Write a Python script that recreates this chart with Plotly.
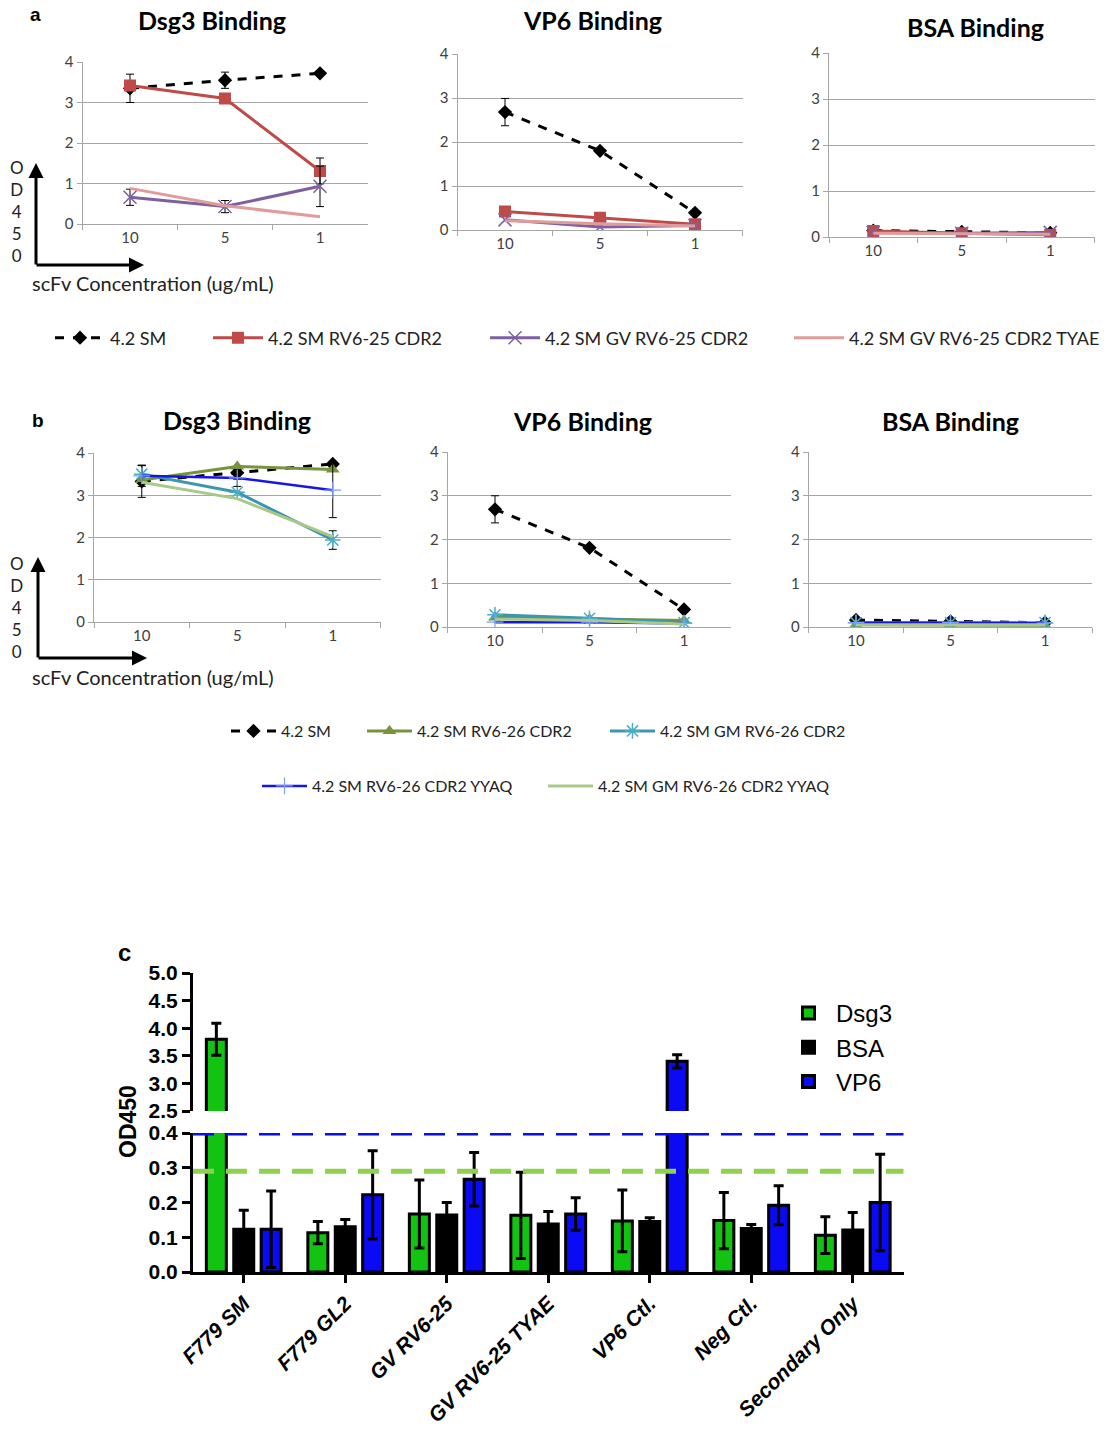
import plotly.graph_objects as go

W, H = 1107, 1429

# ---------------- data ----------------
conc = ["10", "5", "1"]

# Panel a
a_names = ["4.2 SM", "4.2 SM RV6-25 CDR2", "4.2 SM GV RV6-25 CDR2", "4.2 SM GV RV6-25 CDR2 TYAE"]
a_dsg3_sm = [3.35, 3.55, 3.72]
a_dsg3_sm_err = [0.35, 0.20, 0.0]
a_dsg3_rv = [3.42, 3.10, 1.31]
a_dsg3_rv_err = [0.0, 0.0, 0.32]
a_dsg3_gv = [0.66, 0.43, 0.93]
a_dsg3_gv_err = [0.20, 0.15, 0.50]
a_dsg3_ty = [0.88, 0.45, 0.18]

a_vp6_sm = [2.68, 1.80, 0.39]
a_vp6_sm_err = [0.31, 0.04, 0.04]
a_vp6_rv = [0.42, 0.28, 0.13]
a_vp6_gv = [0.23, 0.07, 0.10]
a_vp6_ty = [0.21, 0.14, 0.09]

a_bsa_sm = [0.14, 0.11, 0.09]
a_bsa_rv = [0.13, 0.08, 0.05]
a_bsa_gv = [0.10, 0.08, 0.10]
a_bsa_ty = [0.08, 0.07, 0.06]

# Panel b
b_names = ["4.2 SM", "4.2 SM RV6-26 CDR2", "4.2 SM GM RV6-26 CDR2",
           "4.2 SM RV6-26 CDR2 YYAQ", "4.2 SM GM RV6-26 CDR2 YYAQ"]
b_dsg3_sm = [3.33, 3.53, 3.74]
b_dsg3_sm_err = [0.38, 0.15, 0.0]
b_dsg3_rv = [3.36, 3.68, 3.61]
b_dsg3_gm = [3.50, 3.07, 1.94]
b_dsg3_gm_err = [0.20, 0.0, 0.22]
b_dsg3_yy = [3.46, 3.41, 3.12]
b_dsg3_yy_err = [0.25, 0.20, 0.65]
b_dsg3_gy = [3.31, 2.92, 2.02]

b_vp6_sm = [2.69, 1.81, 0.40]
b_vp6_sm_err = [0.31, 0.04, 0.04]
b_vp6_rv = [0.22, 0.18, 0.15]
b_vp6_gm = [0.28, 0.20, 0.10]
b_vp6_yy = [0.11, 0.11, 0.08]
b_vp6_gy = [0.18, 0.15, 0.07]

b_bsa_sm = [0.16, 0.13, 0.10]
b_bsa_rv = [0.05, 0.05, 0.04]
b_bsa_gm = [0.10, 0.10, 0.10]
b_bsa_yy = [0.10, 0.10, 0.09]
b_bsa_gy = [0.05, 0.05, 0.05]

# Panel c
c_groups = ["F779 SM", "F779 GL2", "GV RV6-25", "GV RV6-25 TYAE", "VP6 Ctl.", "Neg Ctl.", "Secondary Only"]
c_dsg3 = [3.80, 0.113, 0.167, 0.163, 0.147, 0.148, 0.106]
c_dsg3_err = [0.29, 0.032, 0.098, 0.124, 0.089, 0.081, 0.053]
c_bsa = [0.123, 0.130, 0.164, 0.138, 0.145, 0.125, 0.121]
c_bsa_err = [0.055, 0.021, 0.036, 0.036, 0.011, 0.012, 0.050]
c_vp6 = [0.123, 0.222, 0.267, 0.167, 3.40, 0.192, 0.200]
c_vp6_err = [0.110, 0.127, 0.077, 0.047, 0.12, 0.056, 0.139]
c_vp6_cut = 0.40
c_dsg3_cut = 0.29

# ---------------- helpers ----------------
def px(x):
    return x / W

def py(y):
    return 1 - y / H

GRID = "#a6a6a6"
XLF = "Lato"
ARIAL = "Liberation Sans"

fig = go.Figure()

excel_axes = [
    ("x", "y", (82.5, 367.5), (224, 62)),
    ("x2", "y2", (457.5, 742.5), (230, 54)),
    ("x3", "y3", (829, 1094.5), (237, 53)),
    ("x4", "y4", (94, 380.5), (622, 453)),
    ("x5", "y5", (447.75, 731.25), (627, 452)),
    ("x6", "y6", (808.75, 1092.25), (627, 452)),
]

layout_axes = {}
for xn, yn, (x0, x1), (yb, yt) in excel_axes:
    xk = "xaxis" + xn[1:]
    yk = "yaxis" + yn[1:]
    layout_axes[xk] = dict(
        domain=[px(x0), px(x1)], anchor=yn, type="category", range=[-0.5, 2.5],
        tickson="boundaries", ticks="outside", ticklen=5, tickcolor=GRID,
        showline=True, linecolor=GRID, linewidth=1, showgrid=False, zeroline=False,
        tickfont=dict(family=XLF, size=15, color="#404040"), fixedrange=True,
    )
    layout_axes[yk] = dict(
        domain=[py(yb), py(yt)], anchor=xn, range=[0, 4], dtick=1,
        showgrid=True, gridcolor=GRID, gridwidth=1, ticks="outside", ticklen=5,
        tickcolor=GRID, showline=True, linecolor=GRID, linewidth=1, zeroline=False,
        tickfont=dict(family=XLF, size=15, color="#404040"), fixedrange=True,
    )

def EB(arr):
    return dict(type="data", array=arr, color="black", thickness=1, width=4, visible=True)

st_sm = dict(mode="lines+markers", line=dict(color="black", width=3, dash="dash"),
             marker=dict(symbol="diamond", size=11, color="black"))
st_rv25 = dict(mode="lines+markers", line=dict(color="#BE4B48", width=3),
               marker=dict(symbol="square", size=12, color="#BE4B48"))
st_gv25 = dict(mode="lines+markers", line=dict(color="#7D60A0", width=3),
               marker=dict(symbol="x-thin", size=13, color="#7D60A0", line=dict(color="#7D60A0", width=1.5)))
st_ty = dict(mode="lines", line=dict(color="#E09C9B", width=3))

st_rv26 = dict(mode="lines+markers", line=dict(color="#77933C", width=3),
               marker=dict(symbol="triangle-up", size=12, color="#77933C"))
st_gm = dict(mode="lines+markers", line=dict(color="#3D96AE", width=3),
             marker=dict(symbol="asterisk", size=13, color="#4BACC6", line=dict(color="#4BACC6", width=1.5)))
st_yy = dict(mode="lines+markers", line=dict(color="#1515E8", width=2.5),
             marker=dict(symbol="cross-thin", size=12, color="#7F9FFF", line=dict(color="#7F9FFF", width=1.2)))
st_gy = dict(mode="lines", line=dict(color="#A9C98A", width=3))

# Panel a
a_sets = [
    ("x", "y", [a_dsg3_sm, a_dsg3_rv, a_dsg3_gv, a_dsg3_ty],
     [a_dsg3_sm_err, a_dsg3_rv_err, a_dsg3_gv_err, None], True),
    ("x2", "y2", [a_vp6_sm, a_vp6_rv, a_vp6_gv, a_vp6_ty], [a_vp6_sm_err, None, None, None], False),
    ("x3", "y3", [a_bsa_sm, a_bsa_rv, a_bsa_gv, a_bsa_ty], [None, None, None, None], False),
]
a_styles = [st_sm, st_rv25, st_gv25, st_ty]
a_legends = ["legend", "legend2", "legend3", "legend4"]
for xn, yn, vals, errs, showleg in a_sets:
    for i in range(4):
        tr = go.Scatter(x=conc, y=vals[i], name=a_names[i], xaxis=xn, yaxis=yn,
                        showlegend=showleg, legend=a_legends[i], **a_styles[i])
        if errs[i] is not None:
            tr.error_y = EB(errs[i])
        fig.add_trace(tr)

# Panel b
b_sets = [
    ("x4", "y4", [b_dsg3_sm, b_dsg3_rv, b_dsg3_gm, b_dsg3_yy, b_dsg3_gy],
     [b_dsg3_sm_err, None, b_dsg3_gm_err, b_dsg3_yy_err, None], True),
    ("x5", "y5", [b_vp6_sm, b_vp6_rv, b_vp6_gm, b_vp6_yy, b_vp6_gy], [b_vp6_sm_err, None, None, None, None], False),
    ("x6", "y6", [b_bsa_sm, b_bsa_rv, b_bsa_gm, b_bsa_yy, b_bsa_gy], [None] * 5, False),
]
b_styles = [st_sm, st_rv26, st_gm, st_yy, st_gy]
b_legends = ["legend5", "legend6", "legend7", "legend8", "legend9"]
for xn, yn, vals, errs, showleg in b_sets:
    for i in range(5):
        tr = go.Scatter(x=conc, y=vals[i], name=b_names[i], xaxis=xn, yaxis=yn,
                        showlegend=showleg, legend=b_legends[i], **b_styles[i])
        if errs[i] is not None:
            tr.error_y = EB(errs[i])
        fig.add_trace(tr)

# Panel c (broken axis: y7 bottom 0-0.4, y8 top 2.5-5)
c_series = [("Dsg3", c_dsg3, c_dsg3_err, "#12C312"),
            ("BSA", c_bsa, c_bsa_err, "#000000"),
            ("VP6", c_vp6, c_vp6_err, "#0A0AF5")]
for yn, showleg in (("y7", True), ("y8", False)):
    for name, vals, err, col in c_series:
        fig.add_trace(go.Bar(
            x=c_groups, y=vals, name=name, xaxis="x7", yaxis=yn,
            marker=dict(color=col, line=dict(color="black", width=3)),
            error_y=dict(type="data", array=err, color="black", thickness=3, width=5),
            showlegend=showleg, legend="legend10",
        ))

layout_axes["xaxis7"] = dict(
    domain=[px(193), px(903.5)], anchor="y7", type="category", range=[-0.5, 6.5],
    showline=True, linecolor="black", linewidth=3, ticks="outside", ticklen=8, tickwidth=3,
    tickcolor="black", showgrid=False, zeroline=False, tickangle=-45,
    tickfont=dict(family=ARIAL, size=21, color="black", weight="bold", style="italic"),
    fixedrange=True,
)
layout_axes["yaxis7"] = dict(
    domain=[py(1272), py(1133)], anchor="x7", range=[0, 0.4], dtick=0.1, tickformat=".1f",
    showline=True, linecolor="black", linewidth=3, ticks="outside", ticklen=8, tickwidth=3,
    tickcolor="black", showgrid=False, zeroline=False,
    tickfont=dict(family=ARIAL, size=21, color="black", weight="bold"), fixedrange=True,
)
layout_axes["yaxis8"] = dict(
    domain=[py(1111), py(973)], anchor="x7", range=[2.5, 5.0], dtick=0.5, tickformat=".1f",
    showline=True, linecolor="black", linewidth=3, ticks="outside", ticklen=8, tickwidth=3,
    tickcolor="black", showgrid=False, zeroline=False,
    tickfont=dict(family=ARIAL, size=21, color="black", weight="bold"), fixedrange=True,
)

shapes = [
    dict(type="line", xref="x7 domain", yref="y7", x0=0, x1=1, y0=c_vp6_cut, y1=c_vp6_cut,
         line=dict(color="#0A0AF5", width=5, dash="21px,12px")),
    dict(type="line", xref="x7 domain", yref="y7", x0=0, x1=1, y0=c_dsg3_cut, y1=c_dsg3_cut,
         line=dict(color="#8FD14F", width=5, dash="21px,12px")),
]

# ---------------- annotations ----------------
ann = []

def text(x, y, s, size, family=XLF, bold=False, color="black", xanchor="center", yanchor="middle", angle=0):
    ann.append(dict(x=px(x), y=py(y), xref="paper", yref="paper", text=s, showarrow=False,
                    xanchor=xanchor, yanchor=yanchor, textangle=angle,
                    font=dict(family=family, size=size, color=color, weight="bold" if bold else "normal")))

def arrow(hx, hy, tx, ty):
    ann.append(dict(x=px(hx), y=py(hy), xref="paper", yref="paper", ax=tx - hx, ay=ty - hy,
                    axref="pixel", ayref="pixel", text="", showarrow=True, arrowhead=2,
                    arrowsize=1, arrowwidth=3, arrowcolor="black", standoff=0, startstandoff=0))

text(35, 15, "a", 19, family=ARIAL, bold=True)
text(38, 420, "b", 19, family=ARIAL, bold=True)
text(124, 952, "c", 24, family=ARIAL, bold=True)

for x, y, s in [(212, 20, "Dsg3 Binding"), (592, 20, "VP6 Binding"), (976, 27, "BSA Binding"),
                (237, 420, "Dsg3 Binding"), (582, 421, "VP6 Binding"), (950, 421, "BSA Binding")]:
    text(x, y, s, 25, bold=True)

text(17, 212, "O<br>D<br>4<br>5<br>0", 17, color="#222")
text(17, 608, "O<br>D<br>4<br>5<br>0", 17, color="#222")
text(30, 283, "scFv Concentration (ug/mL)", 20, color="#222", xanchor="left")
text(30, 677, "scFv Concentration (ug/mL)", 20, color="#222", xanchor="left")
arrow(36, 163, 36, 266)
arrow(144, 265, 35, 265)
arrow(38, 557, 38, 659)
arrow(147, 658, 37, 658)

text(128, 1122, "OD450", 23, family=ARIAL, bold=True, angle=-90)

# ---------------- legends ----------------
def leg(x, y, size, iw, family=XLF, color="#222"):
    return dict(x=px(x), y=py(y), xanchor="left", yanchor="middle", orientation="h",
                bgcolor="rgba(0,0,0,0)", borderwidth=0, itemwidth=iw,
                font=dict(family=family, size=size, color=color), itemclick=False)

legends = {
    "legend": leg(50, 338, 18, 50),
    "legend2": leg(208, 338, 18, 50),
    "legend3": leg(485, 338, 18, 50),
    "legend4": leg(789, 338, 18, 50),
    "legend5": leg(226, 731, 16, 45),
    "legend6": leg(362, 731, 16, 45),
    "legend7": leg(605, 731, 16, 45),
    "legend8": leg(257, 786, 16, 45),
    "legend9": leg(543, 786, 16, 45),
}
legends["legend10"] = dict(x=px(781), y=py(991), xanchor="left", yanchor="top", orientation="v",
                           bgcolor="rgba(0,0,0,0)", borderwidth=0, itemwidth=45,
                           font=dict(family=ARIAL, size=24, color="black"), itemclick=False)

fig.update_layout(
    width=W, height=H, margin=dict(l=0, r=0, t=0, b=0, pad=0, autoexpand=False),
    paper_bgcolor="white", plot_bgcolor="white",
    barmode="group", bargap=0.19, bargroupgap=0.27,
    shapes=shapes, annotations=ann, **layout_axes, **legends,
)

fig.write_html("out.html", config={"displayModeBar": False},
               post_script="document.body.style.margin='0';")
